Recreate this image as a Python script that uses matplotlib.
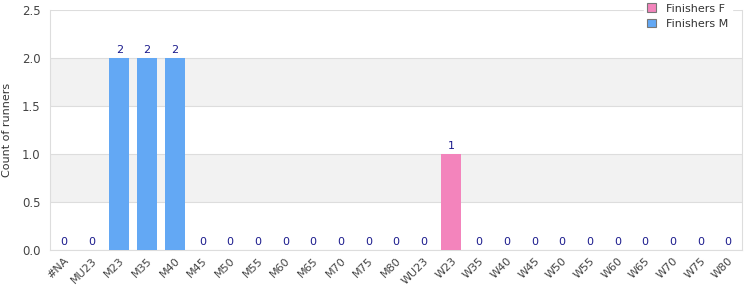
import numpy as np
import matplotlib.pyplot as plt
from matplotlib.patches import Patch

# categories and counts
cats = ['#NA', 'MU23', 'M23', 'M35', 'M40', 'M45', 'M50', 'M55', 'M60', 'M65', 'M70', 'M75', 'M80',
        'WU23', 'W23', 'W35', 'W40', 'W45', 'W50', 'W55', 'W60', 'W65', 'W70', 'W75', 'W80']
finishers_m = [0, 0, 2, 2, 2, 0, 0, 0, 0, 0, 0, 0, 0, 0, 0, 0, 0, 0, 0, 0, 0, 0, 0, 0, 0]
finishers_f = [0, 0, 0, 0, 0, 0, 0, 0, 0, 0, 0, 0, 0, 0, 1, 0, 0, 0, 0, 0, 0, 0, 0, 0, 0]

col_f = '#f384bc'
col_m = '#63a8f4'
lab_col = '#1a1a8c'

fig = plt.figure(figsize=(7.5, 3), dpi=100)
ax = fig.add_axes([0.0667, 0.1667, 0.9226, 0.80])

x = np.arange(len(cats))
ax.bar(x, finishers_m, width=0.72, color=col_m, zorder=3)
ax.bar(x, finishers_f, width=0.72, bottom=finishers_m, color=col_f, zorder=3)

tot = np.array(finishers_m) + np.array(finishers_f)
for i, v in enumerate(tot):
    ax.text(i, v + 0.03, '%d' % v, ha='center', va='bottom', fontsize=8, color=lab_col, zorder=4)

# alternating bands
for lo in [0.5, 1.5]:
    ax.axhspan(lo, lo + 0.5, color='#f2f2f2', zorder=0, lw=0)

ax.set_xlim(-0.5, len(cats) - 0.5)
ax.set_ylim(0, 2.5)
ax.set_yticks([0, 0.5, 1.0, 1.5, 2.0, 2.5])
ax.set_yticklabels(['0.0', '0.5', '1.0', '1.5', '2.0', '2.5'])
ax.yaxis.grid(True, color='#dddddd', lw=0.8, zorder=1)
ax.set_xticks(x)
ax.set_xticklabels(cats, rotation=45, ha='right', rotation_mode='anchor')
ax.tick_params(axis='both', length=0, labelsize=8, colors='#444444')
ax.tick_params(axis='y', pad=7, labelsize=8.5)
ax.tick_params(axis='x', pad=4)
ax.set_ylabel('Count of runners', fontsize=8, color='#333333')
ax.yaxis.set_label_coords(-0.055, 0.5)

for s in ['top']:
    ax.spines[s].set_visible(False)
for s in ['left', 'right', 'bottom']:
    ax.spines[s].set_color('#dddddd')
    ax.spines[s].set_linewidth(0.8)

handles = [Patch(facecolor=col_f, edgecolor='#777777', lw=0.8, label='Finishers F'),
           Patch(facecolor=col_m, edgecolor='#777777', lw=0.8, label='Finishers M')]
leg = ax.legend(handles=handles, loc='upper right', bbox_to_anchor=(0.99, 1.055), frameon=True,
                fontsize=8, handlelength=0.8, handleheight=0.8, handletextpad=0.9, labelspacing=0.45,
                borderaxespad=0.3, borderpad=0.3)
leg.get_frame().set_facecolor('white')
leg.get_frame().set_edgecolor('white')
leg.get_frame().set_alpha(1)
for t in leg.get_texts():
    t.set_color('#333333')

fig.savefig('out.png', dpi=100)
